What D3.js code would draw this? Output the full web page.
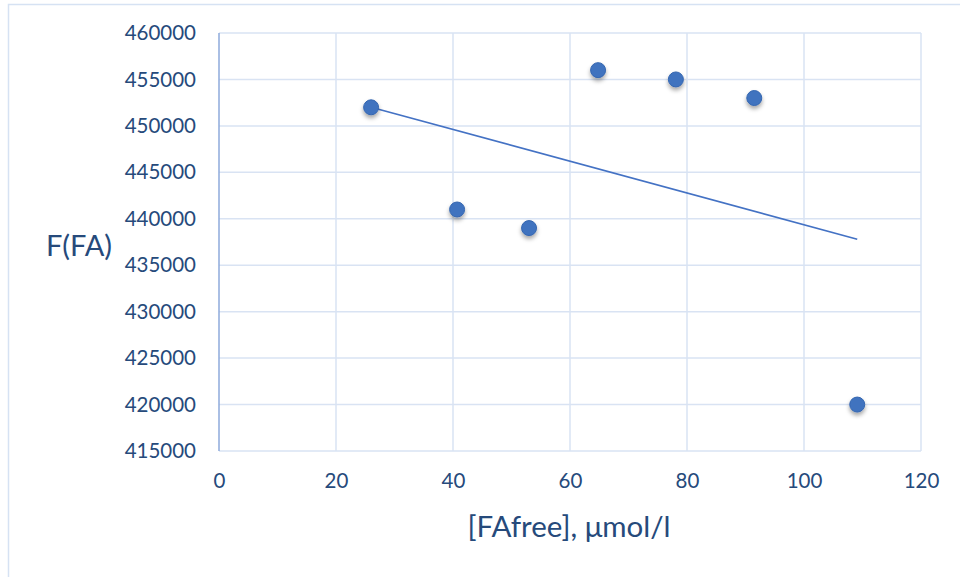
<!DOCTYPE html>
<html>
<head>
<meta charset="utf-8">
<script src="https://cdn.jsdelivr.net/npm/d3@7"></script>
<style>
  html, body { margin: 0; padding: 0; background: #fff; }
  svg { display: block; }
</style>
</head>
<body>
<svg id="chart" width="960" height="577"></svg>
<script>
// ---- data ----
const xValues = [26, 40.7, 53, 64.8, 78.1, 91.5, 109.1];
const yValues = [452000, 441000, 439000, 456000, 455000, 453000, 420000];
const xTicks = [0, 20, 40, 60, 80, 100, 120];
const yTicks = [415000, 420000, 425000, 430000, 435000, 440000, 445000, 450000, 455000, 460000];
const xTitle = "[FAfree], μmol/l";
const yTitle = "F(FA)";

const svg = d3.select("#chart");
const W = 960, H = 577;
const plot = { left: 219, right: 921, top: 33, bottom: 451 };
const textColor = "#264a7b";
const gridColor = "#d9e3f3";
const pointColor = "#3f73bf";
const font = "Lato, 'Open Sans', sans-serif";

// outer chart border (only top and left visible)
svg.append("path")
  .attr("d", `M8.5,${H} L8.5,4.5 L${W},4.5`)
  .attr("fill", "none").attr("stroke", "#d6e2f3").attr("stroke-width", 1.5);

const x = d3.scaleLinear().domain([0, 120]).range([plot.left, plot.right]);
const y = d3.scaleLinear().domain([415000, 460000]).range([plot.bottom, plot.top]);

// gridlines
const g = svg.append("g");
g.selectAll("line.hg").data(yTicks).join("line")
  .attr("x1", plot.left).attr("x2", plot.right)
  .attr("y1", d => y(d)).attr("y2", d => y(d))
  .attr("stroke", gridColor).attr("stroke-width", 1.5);
g.selectAll("line.vg").data(xTicks.filter(d => d > 0)).join("line")
  .attr("x1", d => x(d)).attr("x2", d => x(d))
  .attr("y1", plot.top).attr("y2", plot.bottom)
  .attr("stroke", gridColor).attr("stroke-width", 1.5);

// y axis line
svg.append("line")
  .attr("x1", plot.left).attr("x2", plot.left)
  .attr("y1", plot.top).attr("y2", plot.bottom)
  .attr("stroke", "#8eaadb").attr("stroke-width", 1.5);

// axes (labels only)
const yAxis = d3.axisLeft(y).tickValues(yTicks).tickSize(0).tickPadding(23).tickFormat(d3.format("d"));
const ya = svg.append("g").attr("transform", `translate(${plot.left},0)`).call(yAxis);
ya.select(".domain").remove();
ya.selectAll("text").attr("fill", textColor).attr("font-family", font).attr("font-size", 20.5);

const xAxis = d3.axisBottom(x).tickValues(xTicks).tickSize(0).tickPadding(22).tickFormat(d3.format("d"));
const xa = svg.append("g").attr("transform", `translate(0,${plot.bottom})`).call(xAxis);
xa.select(".domain").remove();
xa.selectAll("text").attr("fill", textColor).attr("font-family", font).attr("font-size", 20.5);

// titles
svg.append("text").attr("x", 79).attr("y", 256).attr("text-anchor", "middle")
  .attr("fill", textColor).attr("font-family", font).attr("font-size", 29).text(yTitle);
svg.append("text").attr("x", 569).attr("y", 537).attr("text-anchor", "middle")
  .attr("fill", textColor).attr("font-family", font).attr("font-size", 29.5).text(xTitle);

// linear trendline (least squares from data)
const mx = d3.mean(xValues), my = d3.mean(yValues);
let sxy = 0, sxx = 0;
xValues.forEach((v, i) => { sxy += (v - mx) * (yValues[i] - my); sxx += (v - mx) * (v - mx); });
const slope = sxy / sxx, icpt = my - slope * mx;
const x0 = d3.min(xValues), x1 = d3.max(xValues);
svg.append("line")
  .attr("x1", x(x0)).attr("y1", y(icpt + slope * x0))
  .attr("x2", x(x1)).attr("y2", y(icpt + slope * x1))
  .attr("stroke", "#4472c4").attr("stroke-width", 1.6);

// shadow filter
const defs = svg.append("defs");
const f = defs.append("filter").attr("id", "sh").attr("x", "-50%").attr("y", "-50%").attr("width", "200%").attr("height", "220%");
f.append("feDropShadow").attr("dx", 0).attr("dy", 3).attr("stdDeviation", 2).attr("flood-color", "#000").attr("flood-opacity", 0.35);

const pts = xValues.map((v, i) => ({ x: v, y: yValues[i] }));
svg.append("g").selectAll("circle").data(pts).join("circle")
  .attr("cx", d => x(d.x)).attr("cy", d => y(d.y)).attr("r", 7.5)
  .attr("fill", pointColor).attr("stroke", "#3566b0").attr("stroke-width", 1)
  .attr("filter", "url(#sh)");
</script>
</body>
</html>
